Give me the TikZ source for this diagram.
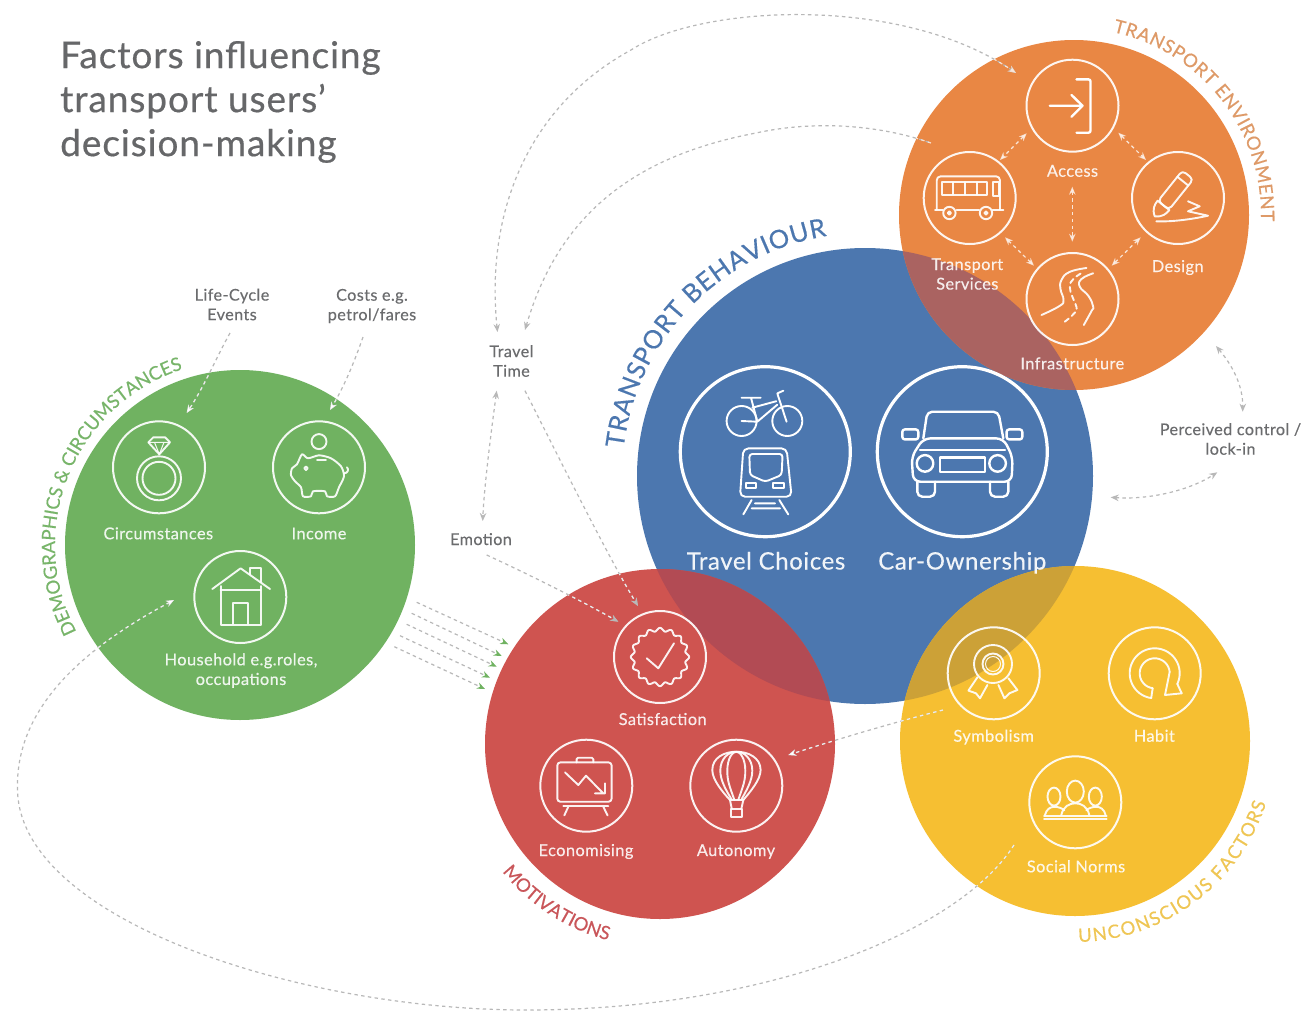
\documentclass[tikz,border=0pt]{standalone}
\usepackage{fontspec}
\setmainfont[LetterSpace=2.5,FakeBold=.25]{Lato}
\newfontfamily\curvefont[FakeBold=.4]{Lato}
\newfontfamily\titlefont[LetterSpace=2.5,FakeBold=.5]{Lato}
\usetikzlibrary{arrows.meta,decorations.text}
\definecolor{cgreen}{HTML}{70B261}
\definecolor{cblue}{HTML}{4C77AF}
\definecolor{corange}{HTML}{E98744}
\definecolor{cred}{HTML}{CF5450}
\definecolor{cyellow}{HTML}{F6BF32}
\definecolor{ovo}{HTML}{AA6361}
\definecolor{ovr}{HTML}{B24B54}
\definecolor{ovy}{HTML}{CCA137}
\definecolor{lgreen}{HTML}{78B56A}
\definecolor{lorange}{HTML}{DE9A68}
\definecolor{lred}{HTML}{C9565A}
\definecolor{lyellow}{HTML}{EFC654}
\definecolor{ctext}{HTML}{6B6C6E}
\definecolor{ctitle}{HTML}{666769}
\definecolor{cdash}{HTML}{B8B8B8}
\tikzset{
  ring/.style={circle,draw=white,draw opacity=.92,line width=#1,minimum size=92pt,inner sep=0pt,outer sep=0pt},
  ring/.default=2pt,
  bigring/.style={circle,draw=white,line width=3.2pt,minimum size=170pt,inner sep=0pt,outer sep=0pt},
  ic/.style={draw=white,draw opacity=.92,line width=1.9pt,line cap=round,line join=round,fill=none},
  icb/.style={draw=white,line width=2.4pt,line cap=round,line join=round,fill=none},
  lab/.style={text=white,text opacity=.88,font=\fontsize{16.4}{19.6}\selectfont,inner sep=0pt,outer sep=0pt,align=center},
  one/.style={text height=14pt,text depth=2pt},
  biglab/.style={text=white,text opacity=.92,font=\fontsize{24}{28}\selectfont,inner sep=0pt,text height=20pt,text depth=3pt},
  glab/.style={text=ctext,font=\fontsize{16.2}{19.6}\selectfont,inner sep=0pt,outer sep=0pt,align=center},
  conn/.style={draw=cdash,line width=1.2pt,dash pattern=on 3.4pt off 3.4pt},
  connw/.style={draw=white,draw opacity=.75,line width=1.2pt,dash pattern=on 3.4pt off 3.4pt},
  tipg/.style={-{Stealth[length=8pt,width=6.5pt,color=#1]}},
  tipg/.default=cdash,
  both/.style={{Stealth[length=8pt,width=6.5pt,color=#1]}-{Stealth[length=8pt,width=6.5pt,color=#1]}},
  both/.default=cdash,
  onlystart/.style={{Stealth[length=8pt,width=6.5pt,color=#1]}-},
  onlystart/.default=cdash
}
\newcommand{\orangeC}{(ko) circle[radius=175pt]}
\newcommand{\greenC}{(kg) circle[radius=175pt]}
\newcommand{\redC}{(kr) circle[radius=175pt]}
\newcommand{\yellowC}{(ky) circle[radius=175pt]}
\newcommand{\blueC}{(kb) circle[radius=228pt]}
% connector: #1 circle to clip white copy, #2 tips for grey, #3 tips for white copy, #4 path
\newcommand{\cnin}[4]{%
  \draw[conn,#2] #4;
  \begin{scope}\clip #1; \draw[connw,#3] #4;\end{scope}}
\begin{document}
\begin{tikzpicture}[x=1pt,y=-1pt]
\useasboundingbox (0,0) rectangle (1315,1012);
\fill[white] (0,0) rectangle (1315,1012);
\coordinate (kg) at (240,545);
\coordinate (kb) at (865,476);
\coordinate (ko) at (1074,215);
\coordinate (kr) at (660,744);
\coordinate (ky) at (1075,741);
% discs
\fill[cblue] \blueC;
\fill[cgreen] \greenC;
\fill[corange] \orangeC;
\fill[cred] \redC;
\fill[cyellow] \yellowC;
\begin{scope}\clip \blueC; \fill[ovo] \orangeC; \fill[ovr] \redC; \fill[ovy] \yellowC; \end{scope}

% title
\node[text=ctitle,font=\titlefont\fontsize{37}{44}\selectfont,inner sep=0pt,anchor=west,align=left] (title) at (60,102) {Factors influencing\\transport users’\\decision-making};

% curved titles
\path[decorate,decoration={text along path,text align={fit to path},text={|\curvefont\fontsize{25.5}{25.5}\selectfont\color{cblue}|TRANSPORT BEHAVIOUR}}]
  plot[domain=186.5:261,samples=50,variable=\t] ({865+243*cos(\t)},{476+243*sin(\t)});
\path[decorate,decoration={text along path,text align={fit to path},text={|\curvefont\fontsize{18.5}{18}\selectfont\color{lorange}|TRANSPORT ENVIRONMENT}}]
  plot[domain=-78:2,samples=50,variable=\t] ({1074+187*cos(\t)},{215+187*sin(\t)});
\path[decorate,decoration={text along path,text align={fit to path},text={|\curvefont\fontsize{18.5}{18}\selectfont\color{lgreen}|DEMOGRAPHICS {\&} CIRCUMSTANCES}}]
  plot[domain=152:252,samples=50,variable=\t] ({240+185*cos(\t)},{545+185*sin(\t)});
\path[decorate,decoration={text along path,text align={fit to path},text={|\curvefont\fontsize{18.5}{18}\selectfont\color{lred}|MOTIVATIONS}}]
  plot[domain=141:105,samples=30,variable=\t] ({660+203*cos(\t)},{744+203*sin(\t)});
\path[decorate,decoration={text along path,text align={fit to path},text={|\curvefont\fontsize{18.5}{18}\selectfont\color{lyellow}|UNCONSCIOUS FACTORS}}]
  plot[domain=89:18,samples=50,variable=\t] ({1075+201*cos(\t)},{741+201*sin(\t)});

% outer labels
\node[glab] (lc) at (232,304.5) {Life-Cycle\\Events};
\node[glab] (co) at (372,306) {Costs e.g.\\petrol/fares};
\node[glab] (tt) at (511.5,361) {Travel\\Time};
\node[glab,one] (em) at (481,539) {Emotion};
\node[glab] (pc) at (1230.5,439) {Perceived control /\\lock-in};

% rings
\node[ring] (acc) at (1072.5,105.7) {};
\node[ring] (bus) at (969.7,198) {};
\node[ring] (des) at (1178,198) {};
\node[ring] (inf) at (1072.5,299) {};
\node[bigring] (trv) at (765.3,451.7) {};
\node[bigring] (car) at (962.3,451.7) {};
\node[ring] (cir) at (159,467.3) {};
\node[ring] (inc) at (319,467.3) {};
\node[ring] (hou) at (240.3,597) {};
\node[ring] (sat) at (660,657) {};
\node[ring] (eco) at (586.3,785.7) {};
\node[ring] (aut) at (736.3,785.7) {};
\node[ring] (sym) at (993.7,673.3) {};
\node[ring] (hab) at (1154.7,673.3) {};
\node[ring] (soc) at (1075.3,802.3) {};

% labels inside
\node[lab,one] (lacc) at (1072.5,170.7) {Access};
\node[lab] (lbus) at (967.3,274) {Transport\\Services};
\node[lab,one] (ldes) at (1177.7,266) {Design};
\node[lab,one] (linf) at (1072.3,363.3) {Infrastructure};
\node[biglab] (ltrv) at (766,561) {Travel Choices};
\node[biglab] (lcar) at (962.3,561) {Car-Ownership};
\node[lab,one] (lcir) at (158.3,533.3) {Circumstances};
\node[lab,one] (linc) at (319,533.3) {Income};
\node[lab] (lhou) at (241,670.5) {Household e.g.roles,\\occupations};
\node[lab,one] (lsat) at (662.7,719) {Satisfaction};
\node[lab,one] (leco) at (586,850) {Economising};
\node[lab,one] (laut) at (736,850) {Autonomy};
\node[lab,one] (lsym) at (993.7,735.7) {Symbolism};
\node[lab,one] (lhab) at (1154.3,735.7) {Habit};
\node[lab,one] (lsoc) at (1076,866.3) {Social Norms};

% connector ends
\coordinate (a1) at (497.5,332);
\coordinate (a2) at (631,50);
\coordinate (a3) at (1016,73);
\coordinate (b1) at (525,330);
\coordinate (b2) at (756,133);
\coordinate (b3) at (931,143);
\coordinate (c1) at (496.7,390.7);
\coordinate (c2) at (482.7,521);
\coordinate (d1) at (525,390.7);
\coordinate (d2) at (638,606);
\coordinate (e1) at (486.7,555);
\coordinate (e2) at (618.3,621.7);
\coordinate (f1) at (943,710);
\coordinate (f2) at (788.3,755);
\coordinate (g1) at (230,333);
\coordinate (g2) at (186.7,413);
\coordinate (h1) at (363,337);
\coordinate (h2) at (330,410);
\coordinate (i1) at (1216,346);
\coordinate (i2) at (1242.7,411.7);
\coordinate (j1) at (1110.7,497.3);
\coordinate (j2) at (1217.3,472.3);
\coordinate (l1) at (1014,845);
\coordinate (l2) at (526,1010);
\coordinate (l3) at (17.5,790);
\coordinate (l4) at (174,600);

% dashed connectors
\cnin{\orangeC}{both}{-{Stealth[length=8pt,width=6.5pt,color=white!80!corange]}}{(a1) .. controls (485,210) and (530,105) .. (a2) .. controls (700,5) and (900,-6) .. (a3)}
\cnin{\orangeC}{onlystart}{}{(b1) .. controls (560,210) and (640,155) .. (b2) .. controls (815,120) and (880,125) .. (b3)}
\draw[conn,both] (c1) .. controls (490,440) and (484,490) .. (c2);
\cnin{\redC}{tipg}{-{Stealth[length=8pt,width=6.5pt,color=cdash]}}{(d1) .. controls (565,470) and (610,560) .. (d2)}
\cnin{\redC}{tipg}{-{Stealth[length=8pt,width=6.5pt,color=cdash]}}{(e1) .. controls (530,575) and (580,600) .. (e2)}
\draw[conn,both] (i1) .. controls (1232,365) and (1243,385) .. (i2);
\draw[conn,both] (j1) .. controls (1150,500) and (1190,490) .. (j2);
\cnin{\greenC}{tipg}{-{Stealth[length=8pt,width=6.5pt,color=white]}}{(g1) .. controls (215,360) and (205,385) .. (g2)}
\cnin{\greenC}{tipg}{-{Stealth[length=8pt,width=6.5pt,color=white]}}{(h1) .. controls (355,360) and (345,385) .. (h2)}
% Autonomy
\draw[conn,tipg] (f1) .. controls (895,722) and (835,740) .. (f2);
\begin{scope}\clip \yellowC; \draw[connw] (f1) .. controls (895,722) and (835,740) .. (f2);\end{scope}
\begin{scope}\clip \redC; \draw[connw,-{Stealth[length=8pt,width=6.5pt,color=white]}] (f1) .. controls (895,722) and (835,740) .. (f2);\end{scope}
% big loop
\draw[conn,tipg] (l1) .. controls (960,930) and (770,1010) .. (l2) .. controls (300,1010) and (20,920) .. (l3) .. controls (15,710) and (80,650) .. (l4);
\begin{scope}\clip \yellowC; \draw[connw] (l1) .. controls (960,930) and (770,1010) .. (l2);\end{scope}
\begin{scope}\clip \greenC; \draw[connw,-{Stealth[length=8pt,width=6.5pt,color=white]}] (l3) .. controls (15,710) and (80,650) .. (l4);\end{scope}
% green arrows
\foreach \ax/\ay/\bx/\by/\k in {416.7/602.3/508.3/644.3/1,411.7/613.3/501.7/656/2,406.7/624.3/496.7/666.7/3,400/635.7/490/677.7/4,394.3/646.7/485/689/5}{
  \coordinate (gs\k) at (\ax,\ay);
  \coordinate (ge\k) at (\bx,\by);
  \draw[conn,tipg=cgreen] (gs\k) -- (ge\k);
}
% orange inner arrows
\coordinate (o1) at (1026.7,133.3); \coordinate (o2) at (1000,160);
\coordinate (o3) at (1118.3,132.7); \coordinate (o4) at (1146,160);
\coordinate (o5) at (1005,237.3); \coordinate (o6) at (1034,265.7);
\coordinate (o7) at (1140.7,237.3); \coordinate (o8) at (1111.7,265.7);
\coordinate (o9) at (1072.3,186.7); \coordinate (o10) at (1072.3,241.7);
\foreach \p/\q in {o1/o2,o3/o4,o5/o6,o7/o8,o9/o10}{
  \draw[connw,draw opacity=.8,both=white!85!corange] (\p) -- (\q);
}

% ---------- icons ----------
% Access
\begin{scope}[shift={(acc.center)}]
\draw[icb] (-22.7,0) -- (10,0) (-1,-10.7) -- (10,0) -- (-1,11);
\draw[icb,rounded corners=2pt] (4,-26.3) -- (18,-26.3) -- (18,27) -- (4,27);
\end{scope}
% Bus
\begin{scope}[shift={(bus.center)}]
\draw[ic,rounded corners=4pt] (-33,11.7) -- (-33,-21.7) -- (30.3,-21.7) -- (30.3,11.7);
\draw[ic] (-27.3,-15.7) rectangle (17.7,-3.3);
\draw[ic] (-16.3,-15.7) -- (-16.3,-3.3) (-4.7,-15.7) -- (-4.7,-3.3) (7,-15.7) -- (7,-3.3);
\draw[ic] (23.7,-15.7) rectangle (29.7,-1.7);
\draw[ic] (-34.7,11.7) -- (-27,11.7) (-13,11.7) -- (9.5,11.7) (23,11.7) -- (33.7,11.7);
\draw[ic] (-20.3,15) circle[radius=6.2pt] (16.3,15) circle[radius=6.2pt];
\draw[ic] (-20.3,15) circle[radius=1.6pt] (16.3,15) circle[radius=1.6pt];
\end{scope}
% Design
\begin{scope}[shift={(des.center)}]
\begin{scope}[shift={(-23.3,18.3)},rotate=51.3]
\draw[ic] (0,0) .. controls (4,6.5) and (9,7.5) .. (14,7.5) -- (14,-7.5) .. controls (9,-7.5) and (4,-6.5) .. (0,0);
\draw[ic,rounded corners=4pt] (14,-7) rectangle (53,7);
\draw[ic] (45,-7) -- (45,7);
\end{scope}
\draw[ic] (-21.7,23.3) .. controls (-5,24) and (15,21) .. (30,17.7) -- (10,13.3) -- (21.7,8.3) -- (10,3.3);
\end{scope}
% Road
\begin{scope}[shift={(inf.center)}]
\draw[ic] plot[smooth,tension=.8] coordinates {(-31,16) (-13,7) (-9,1) (-12,-10) (-11,-19) (-3,-27) (14,-31)};
\draw[ic] plot[smooth,tension=.8] coordinates {(11.3,26) (19,12) (20.7,7.7) (16,-3) (7.3,-12.3) (9,-20) (20.7,-25.7)};
\draw[ic,dash pattern=on 5pt off 4pt] plot[smooth,tension=.8] coordinates {(-7.7,22.7) (2,14) (4,8) (0,-2) (-2.7,-12.3) (1,-20) (10.7,-27)};
\end{scope}
% Bike + train
\begin{scope}[shift={(trv.center)}]
\draw[icb,line width=1.9pt] (-23.7,-30.7) circle[radius=15pt] (22,-30.7) circle[radius=15pt];
\draw[icb,line width=1.9pt] (-23.7,-54) -- (-4.7,-54) (-14.3,-54) -- (-8,-30) (-23.7,-30.7) -- (-8,-30) -- (12,-47) (-13,-44) -- (11,-50.5) (12,-58.3) -- (21.3,-30) (12,-58.3) -- (18,-61);
\draw[icb,line width=1.9pt,rounded corners=5pt] (-22,-3.3) -- (21.3,-3.3) -- (26.3,45) -- (-25.3,45) -- cycle;
\draw[icb,line width=1.9pt,rounded corners=3pt] (-16,2.3) -- (17.3,2.3) -- (16.3,23.3) -- (0,30) -- (-15.3,23.3) -- cycle;
\draw[icb,line width=1.9pt] (-19.3,31.7) rectangle (-9.3,36.7) (8,31.7) rectangle (18.7,36.7);
\draw[icb,line width=1.9pt] (-13.7,48.3) -- (-22,62.7) (14,48.3) -- (23,62.7) (-10.3,51.7) -- (9.7,51.7) (-13.7,56.7) -- (14.7,56.7);
\end{scope}
% Car
\begin{scope}[shift={(car.center)}]
\draw[icb,rounded corners=5pt] (-39,-13.3) -- (-35,-40) -- (36,-40) -- (41,-13.3);
\draw[icb,rounded corners=2.5pt] (-60,-22.3) rectangle (-44,-12.3) (44.3,-22.3) rectangle (60,-12.3);
\draw[icb,rounded corners=7pt] (-39,-13.3) -- (41,-13.3) -- (50.3,5) -- (49.3,30) -- (-49,30) -- (-50.7,5) -- cycle;
\draw[icb] (-42.3,-1.7) -- (42.7,-1.7);
\draw[icb] (-37.3,11.7) circle[radius=8.3pt] (35.3,11.7) circle[radius=8.3pt];
\draw[icb] (-22.3,5.7) rectangle (22.7,20);
\draw[icb,rounded corners=5pt] (-45,30) -- (-45,45) -- (-27.3,45) -- (-27.3,30) (27.7,30) -- (27.7,45) -- (46,45) -- (46,30);
\end{scope}
% Ring
\begin{scope}[shift={(cir.center)}]
\draw[ic] (0,11) circle[radius=22pt] (0,11) circle[radius=16.5pt];
\draw[ic] (-10.7,-25) -- (-5.7,-30) -- (6,-30) -- (11,-25) -- (.3,-13) -- cycle;
\draw[ic,line width=1pt] (-10.7,-25) -- (11,-25) (-4.5,-25) -- (.3,-13) -- (5,-25);
\end{scope}
% Piggy
\begin{scope}[shift={(inc.center)}]
\draw[ic] (0,-25.7) circle[radius=7.5pt];
\draw[ic] plot[smooth cycle,tension=.45] coordinates {(-17,-13) (-11,-9) (0,-12) (12,-9) (22,-1) (25,9) (20,20) (16,29) (8,29) (6,24) (-6,24) (-8,29) (-16,29) (-18,20) (-24,14) (-28,8) (-27,1) (-22,-3)};
\draw[ic] (-13,1) circle[radius=1.8pt];
\draw[ic] (-2,-7) -- (7,-7);
\draw[ic] (25,6) .. controls (29,6) and (30,2) .. (28,0);
\end{scope}
% House
\begin{scope}[shift={(hou.center)}]
\draw[ic] (-28,-8) -- (.3,-28.7) -- (29.7,-8);
\draw[ic] (9.7,-22.5) -- (9.7,-28.7) -- (20.3,-28.7) -- (20.3,-15);
\draw[ic] (-19.7,-11) -- (-19.7,28) -- (20.3,28) -- (20.3,-11);
\draw[ic] (-19.7,-7) -- (20.3,-7);
\draw[ic] (-7,27) -- (-7,6.3) -- (8,6.3) -- (8,27);
\end{scope}
% Satisfaction
\begin{scope}[shift={(sat.center)}]
\draw[ic] plot[domain=0:360,samples=145,smooth,variable=\t] ({(27.5+1.7*cos(16*\t))*cos(\t)},{(27.5+1.7*cos(16*\t))*sin(\t)}) -- cycle;
\draw[ic] (-13.3,1.3) -- (-1.7,11.3) -- (14,-13.7);
\end{scope}
% Economising
\begin{scope}[shift={(eco.center)}]
\draw[ic,rounded corners=3pt] (-29,-23.3) rectangle (25.3,16);
\draw[ic,rounded corners=1.5pt] (-9.7,-23.3) -- (-9.7,-28) -- (7,-28) -- (7,-23.3);
\draw[ic] (-23,20.3) -- (22,20.3) (-18,21) -- (-22,29.7) (17,21) -- (21.3,29.7);
\draw[ic] (-21.3,-13.3) -- (-8,-.7) -- (-.3,-10) -- (17,7.7) (18.7,-2.3) -- (18.7,7.7) -- (8.7,7.7);
\end{scope}
% Balloon
\begin{scope}[shift={(aut.center)}]
\draw[ic] (-6.3,14.3) .. controls (-14,6) and (-24,-6) .. (-24,-15.7) .. controls (-24,-28) and (-12,-34) .. (0,-34) .. controls (12,-34) and (24.3,-28) .. (24.3,-15.7) .. controls (24.3,-6) and (14,6) .. (7,14.3);
\draw[ic] (-4.5,14) .. controls (-10,5) and (-16,-5) .. (-16,-15) .. controls (-16,-27) and (-8,-34) .. (0,-34) .. controls (8,-34) and (16,-27) .. (16,-15) .. controls (16,-5) and (10,5) .. (5,14);
\draw[ic] (-2,14) .. controls (-7,0) and (-9,-5) .. (-9,-15) .. controls (-9,-27) and (-4,-34) .. (0,-34) .. controls (4,-34) and (9,-27) .. (9,-15) .. controls (9,-5) and (7,0) .. (2,14);
\draw[ic] (-6.3,14.3) -- (7,14.3) (-6.3,14.3) -- (-4.5,23.3) (7,14.3) -- (5,23.3);
\draw[ic] (-5.7,23.3) rectangle (6,31.7);
\end{scope}
% Medal
\begin{scope}[shift={(sym.center)}]
\draw[ic] (-.7,-9.3) circle[radius=19pt] (-.7,-9.3) circle[radius=10.5pt];
\draw[ic,line width=1pt] (-.7,-9.3) circle[radius=7.5pt];
\draw[ic] (-16.3,4) -- (-25.3,17.3) -- (-17.7,20) -- (-13.7,25) -- (-6.3,11.7);
\draw[ic] (14.7,5) -- (23.7,16.7) -- (15.7,20) -- (10.7,25) -- (4.7,11.7);
\end{scope}
% Habit
\begin{scope}[shift={(hab.center)}]
\draw[ic] plot[domain=98:385,samples=50,variable=\t] ({25*cos(\t)},{25*sin(\t)});
\draw[ic] plot[domain=98:355,samples=50,variable=\t] ({15*cos(\t)},{15*sin(\t)});
\draw[ic] (-3.5,24.7) -- (-2,14.9);
\draw[ic] (14.9,-1.3) -- (13.7,5) -- (10.3,21.7) -- (27,20) -- (22.6,10.6);
\end{scope}
% People
\begin{scope}[shift={(soc.center)}]
\draw[ic] (0,-10.7) ellipse[x radius=8.5pt,y radius=11pt];
\draw[ic] (-21.3,-5.7) ellipse[x radius=6.5pt,y radius=9pt];
\draw[ic] (20,-5.7) ellipse[x radius=6.5pt,y radius=9pt];
\draw[ic] (-14,12.7) .. controls (-12,4) and (-6,1) .. (0,1) .. controls (6,1) and (12,4) .. (14,12.7);
\draw[ic] (-30.3,12.7) .. controls (-29,7) and (-25,4.5) .. (-21,4.5) .. controls (-17,4.5) and (-13,6) .. (-11,8);
\draw[ic] (30.3,12.7) .. controls (29,7) and (25,4.5) .. (21,4.5) .. controls (17,4.5) and (13,6) .. (11,8);
\draw[ic] (-31.3,13.3) -- (31.3,13.3) (-31.3,17) -- (31.3,17);
\end{scope}
\end{tikzpicture}
\end{document}
